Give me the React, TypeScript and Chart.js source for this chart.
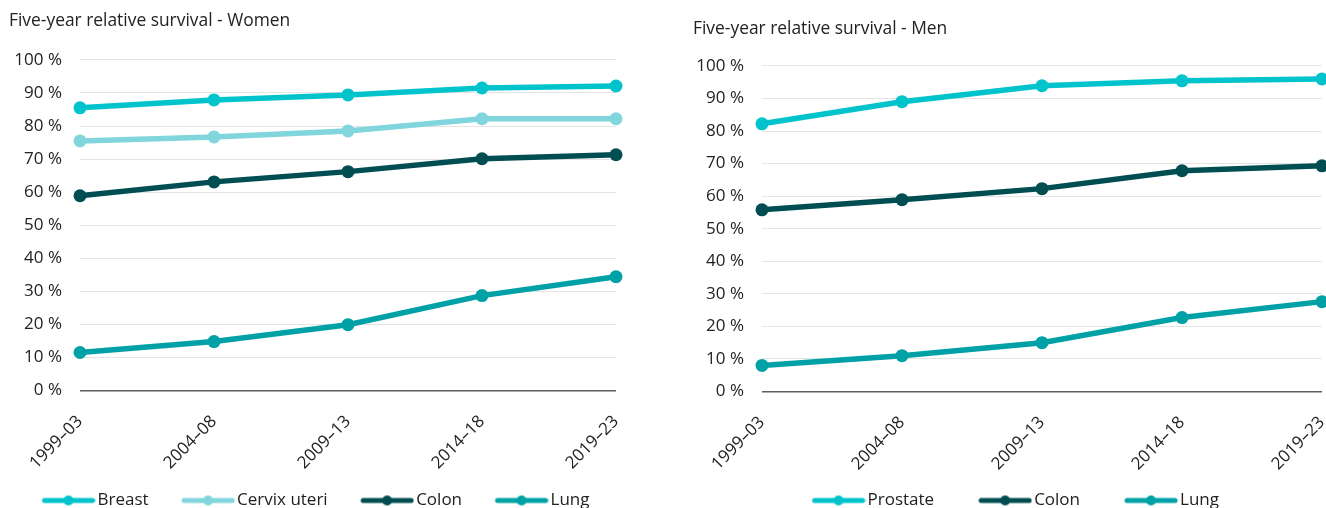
import React, { useEffect, useRef } from "react";
import { Chart, registerables } from "chart.js";

Chart.register(...registerables);

// ---- Data ----
const periods = ["1999–03", "2004–08", "2009–13", "2014–18", "2019–23"];

const womenTitle = "Five-year relative survival - Women";
const womenLabels = ["Breast", "Cervix uteri", "Colon", "Lung"];
const womenBreast = [85.5, 87.9, 89.4, 91.5, 92.1];
const womenCervix = [75.5, 76.7, 78.5, 82.2, 82.2];
const womenColon = [58.9, 63.1, 66.2, 70.1, 71.3];
const womenLung = [11.5, 14.8, 19.9, 28.7, 34.4];

const menTitle = "Five-year relative survival - Men";
const menLabels = ["Prostate", "Colon", "Lung"];
const menProstate = [82.2, 89.0, 93.9, 95.4, 96.0];
const menColon = [55.8, 58.9, 62.3, 67.8, 69.3];
const menLung = [8.0, 11.0, 15.0, 22.7, 27.6];

const yMin = 0;
const yMax = 100;
const yStep = 10;

// ---- Styles ----
const C_BRIGHT = "#00C3CB";
const C_LIGHT = "#80D6DC";
const C_DARK = "#004E51";
const C_MID = "#00A1A6";
const FONT = "'Open Sans', 'Noto Sans', sans-serif";

// legend marker: a thick line with a dot, right-aligned in an image of width boxW + 13
function makeMarker(color: string, boxW: number): HTMLCanvasElement {
  const c = document.createElement("canvas");
  const w = boxW + 13;
  c.width = w;
  c.height = 12;
  const ctx = c.getContext("2d")!;
  const x0 = w - 54;
  ctx.strokeStyle = color;
  ctx.lineWidth = 5;
  ctx.lineCap = "round";
  ctx.beginPath();
  ctx.moveTo(x0 + 3, 6);
  ctx.lineTo(x0 + 51, 6);
  ctx.stroke();
  ctx.fillStyle = color;
  ctx.beginPath();
  ctx.arc(x0 + 27, 6, 5, 0, Math.PI * 2);
  ctx.fill();
  return c;
}

type Cfg = {
  title: string;
  labels: string[];
  series: number[][];
  colors: string[];
  width: number;
  height: number;
  titleTop: number;
  titleBottom: number;
  yWidth: number;
  xHeight: number;
  padRight: number;
  legendPad: number;
  legendAlign: "start" | "center";
  boxW: number;
};

function LineChart({ cfg }: { cfg: Cfg }) {
  const ref = useRef<HTMLCanvasElement>(null);
  useEffect(() => {
    const markers = cfg.colors.map((c) => makeMarker(c, cfg.boxW));
    const chart = new Chart(ref.current!, {
      type: "line",
      data: {
        labels: periods,
        datasets: cfg.series.map((s, i) => ({
          label: cfg.labels[i],
          data: s,
          borderColor: cfg.colors[i],
          backgroundColor: cfg.colors[i],
          pointBackgroundColor: cfg.colors[i],
          pointBorderWidth: 0,
          pointRadius: 6.5,
          borderWidth: 5.5,
          tension: 0,
          fill: false,
          clip: false as any,
        })),
      },
      options: {
        animation: false,
        responsive: false,
        layout: { padding: { left: 9, right: 0, top: 0, bottom: 0 } },
        plugins: {
          tooltip: { enabled: false },
          title: {
            display: true,
            text: cfg.title,
            align: "start",
            color: "#222",
            font: { family: FONT, size: 17.4, weight: "normal" as any },
            padding: { top: cfg.titleTop, bottom: cfg.titleBottom },
          },
          legend: {
            position: "bottom",
            align: cfg.legendAlign,
            labels: {
              usePointStyle: true,
              pointStyleWidth: cfg.boxW,
              padding: cfg.legendPad,
              color: "#222",
              font: { family: FONT, size: 17 },
              generateLabels: (ch: any) =>
                ch.data.datasets.map((ds: any, i: number) => ({
                  text: ds.label,
                  fillStyle: ds.borderColor,
                  strokeStyle: ds.borderColor,
                  lineWidth: 0,
                  pointStyle: markers[i],
                  hidden: false,
                  datasetIndex: i,
                  fontColor: "#222",
                })),
            },
          },
        },
        scales: {
          x: {
            grid: { display: false, drawTicks: false },
            border: { display: false },
            ticks: {
              color: "#222",
              font: { family: FONT, size: 17 },
              minRotation: 45,
              maxRotation: 45,
              autoSkip: false,
              padding: 21,
            },
            afterFit: (scale: any) => {
              scale.height = cfg.xHeight;
              scale.paddingLeft = 0;
              scale.paddingRight = cfg.padRight;
              // let the rotated tick labels extend below the axis box
              scale._computeLabelArea = () => undefined;
            },
          },
          y: {
            min: yMin,
            max: yMax,
            ticks: {
              stepSize: yStep,
              color: "#222",
              padding: 18,
              font: { family: FONT, size: 17 },
              callback: (v: any) => v + " %",
            },
            grid: {
              drawTicks: false,
              color: (ctx: any) => (ctx.tick && ctx.tick.value === 0 ? "#5d5d5d" : "#e4e4e4"),
              lineWidth: (ctx: any) => (ctx.tick && ctx.tick.value === 0 ? 1.6 : 1),
            },
            border: { display: false },
            afterFit: (scale: any) => {
              scale.width = cfg.yWidth;
            },
          },
        },
      },
    });
    return () => chart.destroy();
  }, [cfg]);
  return <canvas ref={ref} width={cfg.width} height={cfg.height} style={{ display: "block" }} />;
}

const womenCfg: Cfg = {
  title: womenTitle,
  labels: womenLabels,
  series: [womenBreast, womenCervix, womenColon, womenLung],
  colors: [C_BRIGHT, C_LIGHT, C_DARK, C_MID],
  width: 638,
  height: 519,
  titleTop: 11,
  titleBottom: 28,
  yWidth: 71,
  xHeight: 65.5,
  padRight: 22,
  legendPad: 36,
  legendAlign: "start",
  boxW: 44,
};

const menCfg: Cfg = {
  title: menTitle,
  labels: menLabels,
  series: [menProstate, menColon, menLung],
  colors: [C_BRIGHT, C_DARK, C_MID],
  width: 660,
  height: 519,
  titleTop: 19,
  titleBottom: 26,
  yWidth: 69,
  xHeight: 50,
  padRight: 22,
  legendPad: 50.5,
  legendAlign: "center",
  boxW: 41,
};

export default function App() {
  return (
    <div
      style={{
        position: "fixed",
        left: 0,
        top: 0,
        width: 1326,
        height: 508,
        overflow: "hidden",
        background: "#fff",
      }}
    >
      <div style={{ position: "absolute", left: 0, top: 0 }}>
        <LineChart cfg={womenCfg} />
      </div>
      <div style={{ position: "absolute", left: 684, top: 0 }}>
        <LineChart cfg={menCfg} />
      </div>
    </div>
  );
}
